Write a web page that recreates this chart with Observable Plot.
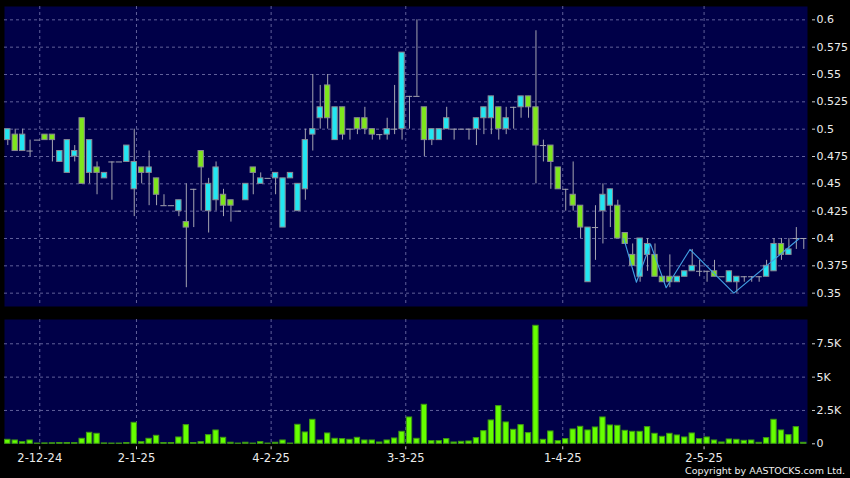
<!DOCTYPE html>
<html>
<head>
<meta charset="utf-8">
<script src="https://cdn.jsdelivr.net/npm/d3@7"></script>
<script src="https://cdn.jsdelivr.net/npm/@observablehq/plot@0.6"></script>
<style>
  html, body { margin: 0; padding: 0; background: #000; }
  #wrap { position: relative; width: 850px; height: 478px; overflow: hidden; background: #000; }
  #wrap svg { display: block; }
  #copy { position: absolute; right: 5px; top: 465px; color: #f0f0f0; font: 9.5px "DejaVu Sans", sans-serif; white-space: nowrap; }
</style>
</head>
<body>
<div id="wrap"><div id="copy">Copyright by AASTOCKS.com Ltd.</div></div>
<script>
// ---- data ----
const open  = [0.49,0.495,0.48,0.48,0.49,0.495,0.495,0.47,0.46,0.475,0.51,0.46,0.465,0.455,0.47,0.47,0.47,0.445,0.465,0.46,
               0.455,0.43,0.43,0.425,0.415,0.445,0.48,0.425,0.435,0.44,0.435,0.425,0.435,0.465,0.45,0.455,0.455,0.41,0.455,0.425,
               0.445,0.495,0.51,0.54,0.49,0.52,0.50,0.51,0.51,0.50,0.495,0.495,0.50,0.50,0.53,0.53,0.52,0.49,0.49,0.50,
               0.50,0.50,0.50,0.50,0.51,0.51,0.52,0.50,0.52,0.52,0.53,0.52,0.485,0.485,0.465,0.445,0.44,0.43,0.36,0.41,
               0.425,0.43,0.43,0.405,0.385,0.365,0.385,0.385,0.365,0.365,0.36,0.365,0.37,0.37,0.37,0.37,0.365,0.36,0.36,0.365,
               0.365,0.365,0.365,0.37,0.395,0.385,0.40,0.40];
const high  = [0.50,0.50,0.50,0.49,0.49,0.495,0.495,0.48,0.49,0.485,0.51,0.49,0.47,0.46,0.47,0.47,0.485,0.50,0.465,0.48,
               0.455,0.44,0.43,0.435,0.45,0.445,0.48,0.455,0.47,0.445,0.435,0.425,0.45,0.465,0.46,0.455,0.46,0.455,0.46,0.45,
               0.50,0.55,0.54,0.55,0.52,0.52,0.50,0.51,0.52,0.50,0.495,0.51,0.54,0.57,0.53,0.60,0.52,0.50,0.50,0.52,
               0.50,0.50,0.50,0.51,0.52,0.53,0.52,0.52,0.52,0.53,0.53,0.59,0.49,0.485,0.465,0.445,0.47,0.43,0.41,0.43,
               0.45,0.445,0.435,0.405,0.395,0.40,0.40,0.395,0.365,0.385,0.365,0.37,0.39,0.38,0.37,0.38,0.365,0.37,0.365,0.365,
               0.365,0.365,0.38,0.40,0.40,0.40,0.41,0.40];
const low   = [0.485,0.48,0.48,0.475,0.49,0.49,0.47,0.47,0.46,0.47,0.45,0.45,0.44,0.455,0.435,0.47,0.47,0.42,0.45,0.43,
               0.43,0.43,0.43,0.42,0.355,0.41,0.425,0.405,0.425,0.42,0.415,0.425,0.435,0.44,0.45,0.455,0.44,0.41,0.455,0.425,
               0.435,0.48,0.50,0.50,0.49,0.49,0.49,0.495,0.495,0.49,0.49,0.49,0.495,0.49,0.50,0.53,0.475,0.485,0.49,0.50,
               0.49,0.50,0.49,0.485,0.495,0.495,0.49,0.495,0.50,0.51,0.51,0.45,0.47,0.445,0.445,0.425,0.425,0.40,0.36,0.38,
               0.395,0.41,0.40,0.395,0.375,0.36,0.37,0.365,0.36,0.355,0.36,0.365,0.37,0.365,0.36,0.365,0.365,0.36,0.35,0.36,
               0.36,0.36,0.365,0.37,0.38,0.385,0.39,0.39];
const close = [0.50,0.48,0.495,0.48,0.49,0.49,0.49,0.48,0.49,0.48,0.45,0.49,0.46,0.46,0.47,0.47,0.485,0.47,0.46,0.465,
               0.44,0.43,0.43,0.435,0.41,0.445,0.465,0.45,0.465,0.43,0.43,0.425,0.45,0.46,0.455,0.455,0.46,0.455,0.46,0.45,
               0.49,0.50,0.52,0.51,0.52,0.495,0.50,0.50,0.50,0.495,0.495,0.50,0.50,0.57,0.53,0.53,0.49,0.50,0.50,0.51,
               0.50,0.50,0.50,0.51,0.52,0.53,0.50,0.51,0.52,0.53,0.52,0.485,0.485,0.47,0.445,0.445,0.43,0.41,0.41,0.41,
               0.44,0.445,0.40,0.395,0.375,0.40,0.395,0.365,0.36,0.36,0.365,0.37,0.375,0.37,0.37,0.365,0.365,0.37,0.365,0.365,
               0.365,0.365,0.375,0.395,0.385,0.39,0.40,0.40];
const volume = [300,250,125,250,20,30,40,60,60,50,375,825,750,30,20,20,60,1575,125,375,
                600,60,60,475,1400,60,125,650,1000,450,80,20,80,20,125,20,80,250,20,1425,
                850,1800,250,775,375,350,300,450,250,250,100,250,400,900,1975,375,2925,200,200,350,
                100,150,175,425,950,1750,2825,1600,1050,1400,800,8850,300,925,200,350,1075,1275,1000,1225,
                1975,1375,1350,975,900,900,1250,750,525,750,625,475,775,350,475,250,100,325,300,225,
                250,75,425,1800,1000,650,1250,75];
// zigzag overlay (candle position, price)
const zigPos   = [82.8, 84.5, 86.4, 88.5, 91.7, 97.6, 106.4];
const zigPrice = [0.40, 0.36, 0.395, 0.355, 0.39, 0.35, 0.40];
// axis ticks
const dateTickPos    = [4.3, 17.3, 35.4, 53.5, 74.6, 93.6];
const dateTickLabels = ["2-12-24", "2-1-25", "4-2-25", "3-3-25", "1-4-25", "2-5-25"];
const priceTicks      = [0.35, 0.375, 0.4, 0.425, 0.45, 0.475, 0.5, 0.525, 0.55, 0.575, 0.6];
const priceTickLabels = ["0.35","0.375","0.4","0.425","0.45","0.475","0.5","0.525","0.55","0.575","0.6"];
const volTicks      = [0, 2500, 5000, 7500];
const volTickLabels = ["0", "2.5K", "5K", "7.5K"];

// ---- build ----
const candles = open.map((o, i) => ({i, o, h: high[i], l: low[i], c: close[i], v: volume[i]}));
const zig = zigPos.map((x, k) => ({x, y: zigPrice[k]}));
const priceLab = new Map(priceTicks.map((t, k) => [t, priceTickLabels[k]]));
const volLab = new Map(volTicks.map((t, k) => [t, volTickLabels[k]]));
const dateLab = new Map(dateTickPos.map((t, k) => [t, dateTickLabels[k]]));

const BG = "#000048", GRID = "#60609a", WICK = "#a4a4b0", BORDER = "#8a8a94";
const UP = "#22e6f2", DOWN = "#7ee61c";
const xDomain = [-0.44, 107.5];
const font = {background: "transparent", color: "#ececec", fontFamily: "'DejaVu Sans', sans-serif", fontSize: "11px", overflow: "visible"};

const main = Plot.plot({
  width: 850, height: 312,
  marginLeft: 4, marginRight: 43, marginTop: 6, marginBottom: 6,
  style: font,
  x: {domain: xDomain, axis: null},
  y: {domain: [0.3378, 0.6122], axis: null},
  marks: [
    Plot.frame({fill: BG}),
    Plot.ruleY(priceTicks, {stroke: GRID, strokeDasharray: "3,3"}),
    Plot.ruleX(dateTickPos, {stroke: GRID, strokeDasharray: "3,3"}),
    Plot.ruleX(candles, {x: "i", y1: "l", y2: "h", stroke: WICK}),
    Plot.rect(candles.filter(d => d.o !== d.c), {
      x1: d => d.i - 0.36, x2: d => d.i + 0.36, y1: "o", y2: "c",
      fill: d => d.c > d.o ? UP : DOWN, stroke: BORDER
    }),
    Plot.ruleY(candles.filter(d => d.o === d.c), {y: "o", x1: d => d.i - 0.42, x2: d => d.i + 0.42, stroke: WICK}),
    Plot.line(zig, {x: "x", y: "y", stroke: "#42a0e4", strokeWidth: 1.1}),
    Plot.axisY(priceTicks, {anchor: "right", label: null, tickSize: 3, tickPadding: 2, dx: 4, stroke: "#cfcfcf",
      tickFormat: d => priceLab.get(d)})
  ]
});

const vol = Plot.plot({
  width: 850, height: 166,
  marginLeft: 4, marginRight: 43, marginTop: 7, marginBottom: 34.7,
  style: font,
  x: {domain: xDomain, label: null},
  y: {domain: [0, 9322], label: null},
  marks: [
    Plot.frame({fill: BG}),
    Plot.ruleY(volTicks.filter(t => t > 0), {stroke: GRID, strokeDasharray: "3,3"}),
    Plot.ruleX(dateTickPos, {stroke: GRID, strokeDasharray: "3,3"}),
    Plot.rectY(candles, {x1: d => d.i - 0.36, x2: d => d.i + 0.36, y: "v", fill: "#66ff00", stroke: "#3f9a12"}),
    Plot.axisY(volTicks, {anchor: "right", label: null, tickSize: 3, tickPadding: 2, dx: 4, stroke: "#cfcfcf",
      tickFormat: d => volLab.get(d)}),
    Plot.axisX(dateTickPos, {anchor: "bottom", label: null, tickSize: 3, tickPadding: 4, dy: 3, stroke: "#cfcfcf",
      fontSize: "11.5px", tickFormat: d => dateLab.get(d)})
  ]
});

const wrap = document.getElementById("wrap");
wrap.insertBefore(vol, wrap.firstChild);
wrap.insertBefore(main, vol);
</script>
</body>
</html>
